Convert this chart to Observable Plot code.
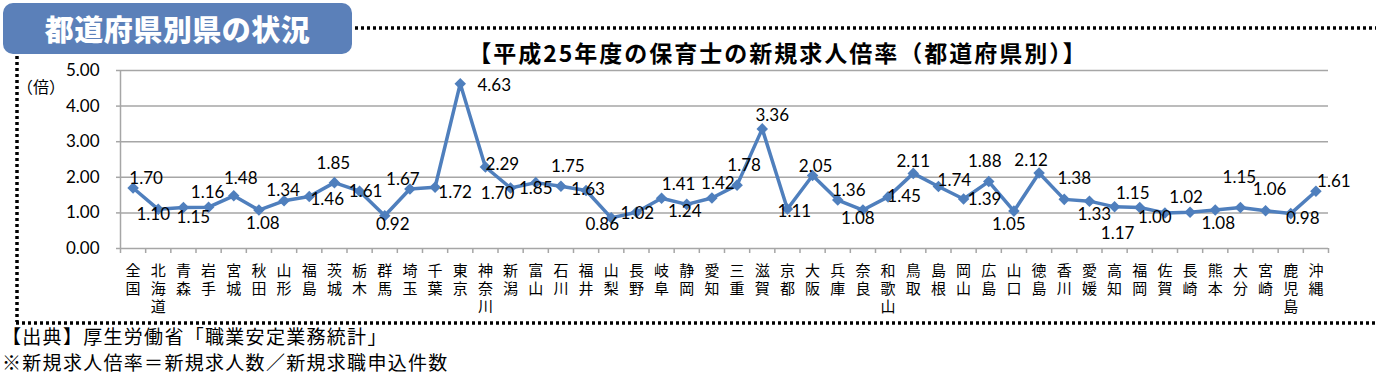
<!DOCTYPE html>
<html>
<head>
<meta charset="utf-8">
<script src="https://cdn.jsdelivr.net/npm/d3@7"></script>
<script src="https://cdn.jsdelivr.net/npm/@observablehq/plot@0.6"></script>
<style>
  html, body { margin: 0; padding: 0; background: #fff; }
  body { width: 1376px; height: 376px; overflow: hidden; position: relative; font-family: "Noto Sans CJK JP", sans-serif; }
  #chart { position: absolute; left: 0; top: 0; }
  #deco { position: absolute; left: 0; top: 0; }
  #badge { position: absolute; left: 3px; top: 3px; width: 349px; height: 51px; background: #5b80b9; border-radius: 10px;
           color: #fff; font-weight: 900; font-size: 29px; line-height: 51px; text-align: center; letter-spacing: 0.5px; }
  #title { position: absolute; left: 378px; width: 800px; top: 40px; text-align: center; font-weight: 700;
           font-size: 23px; line-height: 25px; letter-spacing: 2px; color: #000; }
  #caption { position: absolute; left: 2px; top: 323px; font-size: 19px; line-height: 26px; color: #000; letter-spacing: 1.3px; }
  #ylab { position: absolute; left: 17px; top: 76px; font-size: 16px; line-height: 20px; letter-spacing: 0; color: #000; }
</style>
</head>
<body>
<div id="chart"></div>
<svg id="deco" width="1376" height="376">
  <g stroke="#000" stroke-width="3.5" stroke-dasharray="3 3" fill="none">
    <line x1="355" y1="28" x2="1376" y2="28"></line>
    <line x1="17" y1="56" x2="17" y2="322"></line>
    <line x1="16" y1="323" x2="1376" y2="323"></line>
  </g>
</svg>
<div id="badge">都道府県別県の状況</div>
<div id="title">【平成25年度の保育士の新規求人倍率（都道府県別）】</div>
<div id="ylab">（倍）</div>
<div id="caption">【出典】厚生労働省「職業安定業務統計」<br>※新規求人倍率＝新規求人数／新規求職申込件数</div>
<script>
const categories = ["全国","北海道","青森","岩手","宮城","秋田","山形","福島","茨城","栃木","群馬","埼玉","千葉","東京","神奈川","新潟",
  "富山","石川","福井","山梨","長野","岐阜","静岡","愛知","三重","滋賀","京都","大阪","兵庫","奈良","和歌山","鳥取",
  "島根","岡山","広島","山口","徳島","香川","愛媛","高知","福岡","佐賀","長崎","熊本","大分","宮崎","鹿児島","沖縄"];
const values = [1.70,1.10,1.15,1.16,1.48,1.08,1.34,1.46,1.85,1.61,0.92,1.67,1.72,4.63,2.29,1.70,
  1.85,1.75,1.63,0.86,1.02,1.41,1.24,1.42,1.78,3.36,1.11,2.05,1.36,1.08,1.45,2.11,
  1.74,1.39,1.88,1.05,2.12,1.38,1.33,1.17,1.15,1.00,1.02,1.08,1.15,1.06,0.98,1.61];
const yTicks = [0, 1, 2, 3, 4, 5];
// label placement nudges (px) relative to each point
const labelDx = [13,-5,10,-1,7,4,-1,18,-1,6,8,-7,20,34,17,-13,0,7,2,-9,1,17,-2,6,7,10,7,3,11,-5,16,0,16,21,-4,-5,-8,10,5,3,-7,-10,-4,3,-1,4,12,18];
const labelDy = [-9,5,10,-15,-17,13,-10,3,-19,0,9,-10,5,2,-2,6,6,-20,-1,7,1,-14,7,-14,-20,-13,3,-9,-10,8,0,-12,-6,1,-20,13,-12,-21,13,27,-14,5,-15,13,-30,-21,5,-10];

const data = categories.map((name, i) => ({ name, i, pos: i + 0.5, v: values[i] }));
const blue = "#4f7fbd";
const grid = "#a6a6a6";
const numFont = "Lato, 'Open Sans', sans-serif";

const labelMarks = data.map((d, i) => Plot.text([d], {
  x: "pos", y: "v", text: dd => dd.v.toFixed(2),
  dx: labelDx[i], dy: labelDy[i], fontSize: 17, fill: "#000", fontFamily: numFont
}));

const plot = Plot.plot({
  width: 1376, height: 322,
  marginLeft: 120, marginRight: 48, marginTop: 70, marginBottom: 74,
  x: { type: "linear", domain: [0, categories.length], label: null },
  y: { domain: [0, 5], label: null },
  style: { background: "transparent", color: "#000", fontFamily: numFont },
  marks: [
    Plot.ruleY(yTicks, { stroke: grid, strokeWidth: 1.5 }),
    Plot.ruleX([0], { stroke: grid, strokeWidth: 1.5 }),
    Plot.axisY({ ticks: yTicks, tickFormat: d => d.toFixed(2), tickSize: 4, tickPadding: 17, label: null,
      stroke: grid, strokeWidth: 1.5, fontSize: 17, fill: "#000", fontFamily: numFont }),
    Plot.axisX({ ticks: d3.range(categories.length + 1), tickFormat: () => "", tickSize: 5, label: null,
      stroke: grid, strokeWidth: 1.5 }),
    Plot.text(data, { x: "pos", y: () => 0, text: d => Array.from(d.name).join("\n"),
      lineAnchor: "top", dy: 15, lineHeight: 1.2, fontSize: 15, fill: "#000",
      fontFamily: "'Noto Sans CJK JP', sans-serif" }),
    Plot.line(data, { x: "pos", y: "v", stroke: blue, strokeWidth: 3.5 }),
    Plot.dot(data, { x: "pos", y: "v", symbol: "diamond2", r: 5.2, fill: blue, stroke: "none" }),
    ...labelMarks
  ]
});
document.getElementById("chart").appendChild(plot);
</script>
</body>
</html>
